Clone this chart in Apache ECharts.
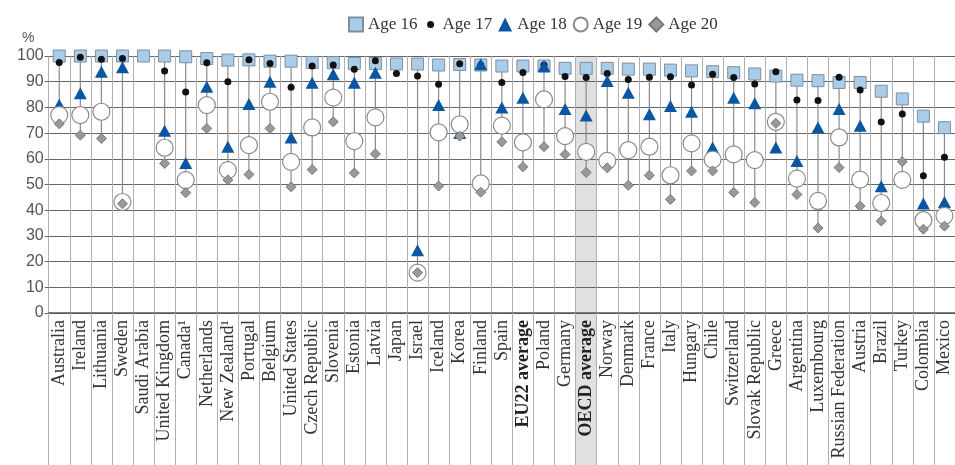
<!DOCTYPE html>
<html>
<head>
<meta charset="utf-8">
<script src="https://cdn.jsdelivr.net/npm/echarts@6/dist/echarts.min.js"></script>
<style>
  html, body { margin: 0; padding: 0; background: #fff; }
  #chart { width: 955px; height: 465px; }
</style>
</head>
<body>
<div id="chart"></div>
<script>
var countries = [
  "Australia", "Ireland", "Lithuania", "Sweden", "Saudi Arabia", "United Kingdom",
  "Canada¹", "Netherlands", "New Zealand¹", "Portugal", "Belgium", "United States",
  "Czech Republic", "Slovenia", "Estonia", "Latvia", "Japan", "Israel", "Iceland",
  "Korea", "Finland", "Spain", "EU22 average", "Poland", "Germany", "OECD average",
  "Norway", "Denmark", "France", "Italy", "Hungary", "Chile", "Switzerland",
  "Slovak Republic", "Greece", "Argentina", "Luxembourg", "Russian Federation",
  "Austria", "Brazil", "Turkey", "Colombia", "Mexico"
];
var age16 = [100, 100, 100, 100, 100, 100, 99.7, 99, 98.4, 98.5, 98, 98, 97.5, 97.4, 97.1, 97.1, 96.9, 96.9, 96.5, 96.7, 96.5, 96.1, 96.1, 96.1, 95.2, 95.2, 95.2, 94.9, 94.9, 94.5, 94.2, 93.9, 93.5, 93, 92.2, 90.6, 90.4, 89.7, 89.7, 86.3, 83.3, 76.6, 72.1];
var age17 = [97.5, 99.5, 98.7, 99, null, 94.2, 86, 97.4, 90, 98.5, 97.1, 87.8, 96.1, 96.5, 94.8, 98.2, 93.2, 92.2, 89, 97, 96.5, 89.7, 93.6, 96.5, 92, 91.6, 93.2, 90.9, 91.7, 91.9, 88.7, 92.9, 91.6, 89.1, 93.9, 82.9, 82.7, 91.7, 86.8, 74.3, 77.4, 53.4, 60.6];
var age18 = [81, 85.5, 93.9, 95.6, null, 70.9, 58.4, 88, 64.7, 81.3, 90, 68.3, 89.6, 92.9, 89.6, 93.5, null, 24.4, 80.9, 70, 96.8, 80, 83.8, 96, 79.4, 76.8, 90.3, 85.7, 77.3, 80.5, 78.3, 64.4, 83.8, 81.6, 64.4, 59.1, 72.2, 79.4, 72.9, 49.3, null, 42.6, 43.2];
var age19 = [77, 77, 78.3, 43.2, null, 64.3, 51.7, 80.9, 55.6, 65.3, 82.2, 58.8, 72.2, 83.8, 66.9, 76.1, null, 15.7, 70.3, 73.4, 50.4, 72.9, 66.4, 83.1, 68.8, 62.7, 59.2, 63.4, 64.7, 53.6, 66, 59.7, 61.7, 59.5, 74.4, 52.3, 43.6, 68.3, 51.9, 42.8, 51.8, 36.1, 37.8];
var age20 = [73.6, 69.2, 67.9, 42.5, null, 58.2, 46.8, 71.8, 51.8, 53.9, 71.8, 49.1, 55.8, 74.4, 54.5, 61.9, null, 15.7, 49.4, 68.8, 47, 66.6, 56.9, 64.7, 61.7, 54.7, 56.5, 49.7, 53.6, 44.2, 55.3, 55.3, 46.9, 43, 73.8, 46.1, 33.1, 56.6, 41.6, 35.8, 58.9, 32.6, 33.8];
var yTicks = [0, 10, 20, 30, 40, 50, 60, 70, 80, 90, 100];

var highlighted = ["EU22 average", "OECD average"];
var shaded = "OECD average";

// min-max range of each country for the connecting line
var ranges = countries.map(function(c, i) {
  var vals = [age16[i], age17[i], age18[i], age19[i], age20[i]].filter(function(v) { return v != null; });
  return [i, Math.min.apply(null, vals), Math.max.apply(null, vals)];
});

var myChart = echarts.init(document.getElementById("chart"));
var serif = "Liberation Serif";
// small dot for the legend: circle in the middle, tiny specks in the corners keep the box size
var smallDot = "path://M0,0L0.01,0L0,0.01Z M14,14L13.99,14L14,13.99Z M3.5,7A3.5,3.5 0 1,0 10.5,7A3.5,3.5 0 1,0 3.5,7Z";

var option = {
  backgroundColor: "#ffffff",
  animation: false,
  legend: {
    left: 343,
    top: 11,
    itemWidth: 14,
    itemHeight: 14,
    itemGap: 6,
    textStyle: { fontFamily: serif, fontSize: 17, color: "#333" },
    data: [
      { name: "Age 16" },
      { name: "Age 17", icon: smallDot },
      { name: "Age 18" },
      { name: "Age 19" },
      { name: "Age 20" }
    ]
  },
  grid: { left: 48.7, top: 56, width: 912.5, height: 257 },
  xAxis: {
    type: "category",
    data: countries,
    boundaryGap: true,
    axisLine: { lineStyle: { color: "#555", width: 1.5 } },
    axisTick: { show: true, interval: 0, length: 152, lineStyle: { color: "#b0b0b0" } },
    splitLine: { show: true, interval: 0, lineStyle: { color: "#b0b0b0" } },
    axisLabel: {
      interval: 0,
      rotate: 90,
      margin: 7,
      fontFamily: serif,
      fontSize: 18,
      color: "#333",
      formatter: function(v) {
        return highlighted.indexOf(v) >= 0 ? "{b|" + v + "}" : v;
      },
      rich: { b: { fontFamily: serif, fontSize: 18, fontWeight: "bold", color: "#222" } }
    }
  },
  yAxis: {
    type: "value",
    min: 0,
    max: 100,
    interval: 10,
    axisLine: { show: false },
    axisTick: { show: true, length: 4, lineStyle: { color: "#666" } },
    splitLine: { lineStyle: { color: "#666", width: 1 } },
    axisLabel: {
      margin: 5,
      fontFamily: "Liberation Sans",
      fontSize: 16,
      color: "#555",
      customValues: yTicks
    }
  },
  series: [
    {
      name: "range",
      type: "custom",
      data: ranges,
      encode: { x: 0, y: [1, 2] },
      z: 1,
      silent: true,
      renderItem: function(params, api) {
        var p1 = api.coord([api.value(0), api.value(1)]);
        var p2 = api.coord([api.value(0), api.value(2)]);
        return {
          type: "line",
          shape: { x1: p1[0], y1: p1[1], x2: p2[0], y2: p2[1] },
          style: { stroke: "#8a8a8a", lineWidth: 1.2 }
        };
      }
    },
    {
      name: "Age 16", type: "scatter", data: age16, z: 2,
      symbol: "rect", symbolSize: 12,
      itemStyle: { color: "#a9cce8", borderColor: "#7d8fa0", borderWidth: 1, opacity: 1 }
    },
    {
      name: "Age 17", type: "scatter", data: age17, z: 3,
      symbol: "circle", symbolSize: 7,
      itemStyle: { color: "#111", opacity: 1 }
    },
    {
      name: "Age 18", type: "scatter", data: age18, z: 4,
      symbol: "triangle", symbolSize: [13, 12],
      itemStyle: { color: "#0a56a3", opacity: 1 }
    },
    {
      name: "Age 19", type: "scatter", data: age19, z: 5,
      symbol: "circle", symbolSize: 17,
      itemStyle: { color: "#ffffff", borderColor: "#8a8a8a", borderWidth: 1.2, opacity: 1 }
    },
    {
      name: "Age 20", type: "scatter", data: age20, z: 6,
      symbol: "diamond", symbolSize: 10,
      itemStyle: { color: "#999", borderColor: "#7a7a7a", borderWidth: 1, opacity: 1 }
    }
  ]
};
myChart.setOption(option);

// grey band behind the OECD average column, running down through the labels
var idx = countries.indexOf(shaded);
var cx = myChart.convertToPixel({ xAxisIndex: 0 }, idx);
var bw = myChart.convertToPixel({ xAxisIndex: 0 }, idx + 1) - cx;
var yTop = myChart.convertToPixel({ yAxisIndex: 0 }, 100);
myChart.setOption({
  graphic: [
    { type: "text", left: 22, top: 31, style: { text: "%", fontFamily: "Liberation Sans", fontSize: 14, fill: "#555" } },
    {
      type: "rect", z: -10, silent: true,
      shape: { x: cx - bw / 2, y: yTop, width: bw, height: myChart.getHeight() - yTop },
      style: { fill: "#e0e0e0" }
    }
  ]
});
</script>
</body>
</html>
